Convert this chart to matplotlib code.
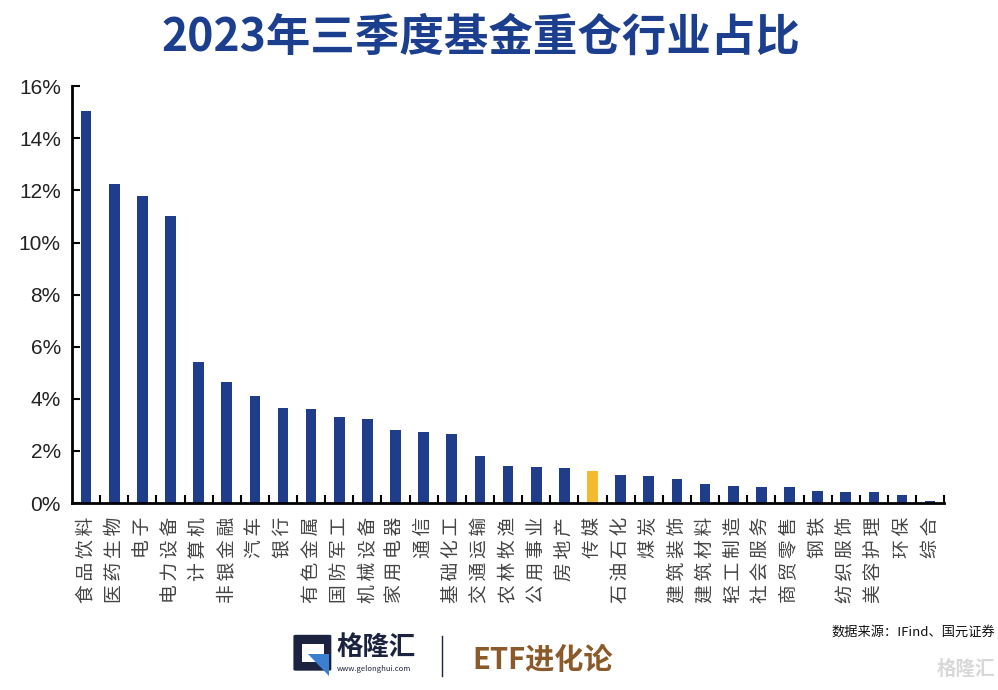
import matplotlib
matplotlib.use("Agg")
import matplotlib.pyplot as plt
from matplotlib.patches import Polygon, FancyBboxPatch
from matplotlib.ticker import FixedLocator, PercentFormatter

plt.rcParams["font.family"] = ["Noto Sans CJK SC", "DejaVu Sans"]

# data (percent of fund heavy holdings, Q3 2023)
industries = [
    "食品饮料", "医药生物", "电子", "电力设备", "计算机", "非银金融", "汽车",
    "银行", "有色金属", "国防军工", "机械设备", "家用电器", "通信", "基础化工",
    "交通运输", "农林牧渔", "公用事业", "房地产", "传媒", "石油石化", "煤炭",
    "建筑装饰", "建筑材料", "轻工制造", "社会服务", "商贸零售", "钢铁",
    "纺织服饰", "美容护理", "环保", "综合",
]
shares = [
    15.04, 12.26, 11.79, 11.00, 5.40, 4.65, 4.11, 3.66, 3.60, 3.31, 3.23,
    2.80, 2.72, 2.66, 1.82, 1.43, 1.39, 1.33, 1.24, 1.08, 1.03, 0.93, 0.73,
    0.65, 0.62, 0.60, 0.47, 0.43, 0.42, 0.32, 0.07,
]
highlight = "传媒"
y_ticks = [0, 2, 4, 6, 8, 10, 12, 14, 16]

blue = "#1f3d8a"
gold = "#f3b92f"
colors = [gold if name == highlight else blue for name in industries]

fig = plt.figure(figsize=(9.98, 6.90), dpi=100)
fig.patch.set_facecolor("white")

ax = fig.add_axes([0.0721, 0.271, 0.874, 0.604])
x = list(range(len(industries)))
ax.bar(x, shares, width=0.38, color=colors, zorder=2)

ax.set_xlim(-0.5, len(industries) - 0.5)
ax.set_ylim(0, 16)
ax.set_yticks(y_ticks)
ax.yaxis.set_major_formatter(PercentFormatter(decimals=0))
for lab in ax.get_yticklabels():
    lab.set_fontfamily("Liberation Sans")
    lab.set_fontsize(15)
    lab.set_color("#222222")
ax.tick_params(axis="y", direction="in", length=6, width=1.5, pad=8)

# spread the characters a little, like the reference labels
spaced = ["\u2009".join(name) for name in industries]
ax.set_xticks(x)
ax.set_xticklabels(spaced, rotation=90, fontsize=13.5, color="#444444",
                   va="top", ha="center",
                   fontfamily=["Noto Sans CJK SC", "DejaVu Sans"])
ax.tick_params(axis="x", which="major", length=0, pad=10)
ax.xaxis.set_minor_locator(FixedLocator([i + 0.5 for i in x]))
ax.tick_params(axis="x", which="minor", direction="in", length=6, width=1.5)

for side in ("top", "right"):
    ax.spines[side].set_visible(False)
for side in ("left", "bottom"):
    ax.spines[side].set_linewidth(2)
    ax.spines[side].set_color("black")

fig.text(0.482, 0.945, "2023年三季度基金重仓行业占比", ha="center", va="center",
         fontsize=32, fontweight="bold", color="#1b3f8e")

# footer
fig.text(0.997, 0.084, "数据来源：IFind、国元证券", ha="right", va="center",
         fontsize=9.5, color="#111111")

# logo icon
icon = FancyBboxPatch((0.296, 0.030), 0.034, 0.048, boxstyle="round,pad=0.002",
                      transform=fig.transFigure, facecolor="#1c2340",
                      edgecolor="none")
fig.patches.append(icon)
inner = FancyBboxPatch((0.303, 0.041), 0.022, 0.026, boxstyle="square,pad=0",
                       transform=fig.transFigure, facecolor="white",
                       edgecolor="none")
fig.patches.append(inner)
tri = Polygon([(0.309, 0.052), (0.330, 0.052), (0.330, 0.020)], closed=True,
              transform=fig.transFigure, facecolor="#3b7fd0", edgecolor="none")
fig.patches.append(tri)
fig.text(0.337, 0.062, "格隆汇", ha="left", va="center", fontsize=19,
         fontweight="bold", color="#1c2340")
fig.text(0.337, 0.030, "www.gelonghui.com", ha="left", va="center",
         fontsize=5.5, color="#1c2340")

fig.add_artist(plt.Line2D([0.443, 0.443], [0.020, 0.078], color="#1c2340",
                          lw=1, transform=fig.transFigure))
fig.text(0.473, 0.044, "ETF进化论", ha="left", va="center", fontsize=21,
         fontweight="bold", color="#8b5a2b")

fig.text(0.997, 0.030, "格隆汇", ha="right", va="center", fontsize=14,
         fontweight="bold", color="#d8d8d8")

fig.savefig("out.png", dpi=100)
